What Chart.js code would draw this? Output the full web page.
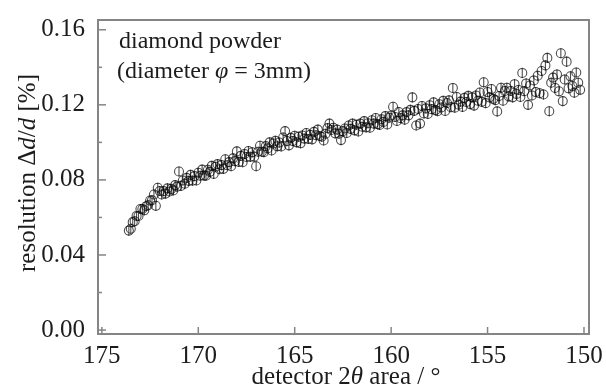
<!DOCTYPE html>
<html><head><meta charset="utf-8">
<script src="https://cdn.jsdelivr.net/npm/chart.js@4/dist/chart.umd.min.js"></script>
<style>html,body{margin:0;padding:0;background:#fff}canvas{display:block}</style>
</head><body>
<canvas id="c" width="606" height="387"></canvas>
<script>
// detector 2θ area (degrees)
const angles = [
173.6,173.5,173.4,173.3,173.2,173.1,173.0,172.9,172.8,172.7,
172.6,172.5,172.4,172.3,172.2,172.1,172.0,171.9,171.8,171.7,
171.6,171.5,171.4,171.3,171.2,171.1,171.0,170.9,170.8,170.7,
170.6,170.5,170.4,170.3,170.2,170.1,170.0,169.9,169.8,169.7,
169.6,169.5,169.4,169.3,169.2,169.1,169.0,168.9,168.8,168.7,
168.6,168.5,168.4,168.3,168.2,168.1,168.0,167.9,167.8,167.7,
167.6,167.5,167.4,167.3,167.2,167.1,167.0,166.9,166.8,166.7,
166.6,166.5,166.4,166.3,166.2,166.1,166.0,165.9,165.8,165.7,
165.6,165.5,165.4,165.3,165.2,165.1,165.0,164.9,164.8,164.7,
164.6,164.5,164.4,164.3,164.2,164.1,164.0,163.9,163.8,163.7,
163.6,163.5,163.4,163.3,163.2,163.1,163.0,162.9,162.8,162.7,
162.6,162.5,162.4,162.3,162.2,162.1,162.0,161.9,161.8,161.7,
161.6,161.5,161.4,161.3,161.2,161.1,161.0,160.9,160.8,160.7,
160.6,160.5,160.4,160.3,160.2,160.1,160.0,159.9,159.8,159.7,
159.6,159.5,159.4,159.3,159.2,159.1,159.0,158.9,158.8,158.7,
158.6,158.5,158.4,158.3,158.2,158.1,158.0,157.9,157.8,157.7,
157.6,157.5,157.4,157.3,157.2,157.1,157.0,156.9,156.8,156.7,
156.6,156.5,156.4,156.3,156.2,156.1,156.0,155.9,155.8,155.7,
155.6,155.5,155.4,155.3,155.2,155.1,155.0,154.9,154.8,154.7,
154.6,154.5,154.4,154.3,154.2,154.1,154.0,153.9,153.8,153.7,
153.6,153.5,153.4,153.3,153.2,153.1,153.0,152.9,152.8,152.7,
152.6,152.5,152.4,152.3,152.2,152.1,152.0,151.9,151.8,151.7,
151.6,151.5,151.4,151.3,151.2,151.1,151.0,150.9,150.8,150.7,
150.6,150.5,150.4,150.3,150.2
];
// resolution Δd/d (%)
const resolution = [
0.0530,0.0540,0.0575,0.0580,0.0608,0.0608,0.0645,0.0645,0.0638,0.0660,
0.0665,0.0690,0.0692,0.0722,0.0662,0.0758,0.0741,0.0722,0.0740,0.0727,
0.0755,0.0738,0.0752,0.0744,0.0772,0.0764,0.0845,0.0768,0.0797,0.0780,
0.0811,0.0795,0.0827,0.0796,0.0820,0.0797,0.0838,0.0822,0.0855,0.0823,
0.0822,0.0854,0.0843,0.0875,0.0832,0.0870,0.0884,0.0857,0.0879,0.0859,
0.0910,0.0878,0.0895,0.0873,0.0915,0.0900,0.0952,0.0896,0.0928,0.0894,
0.0938,0.0922,0.0954,0.0923,0.0947,0.0924,0.0873,0.0950,0.0982,0.0950,
0.0948,0.0980,0.0968,0.1000,0.0957,0.0994,0.1008,0.0979,0.0999,0.0978,
0.1026,0.1060,0.1007,0.0984,0.1024,0.1007,0.1035,0.1000,0.1030,0.0995,
0.1037,0.1020,0.1050,0.1018,0.1040,0.1016,0.1056,0.1038,0.1068,0.1034,
0.1030,0.1010,0.1046,0.1076,0.1100,0.1066,0.1078,0.1048,0.1068,0.1046,
0.1012,0.1060,0.1074,0.1050,0.1090,0.1072,0.1100,0.1064,0.1094,0.1058,
0.1100,0.1083,0.1113,0.1080,0.1102,0.1078,0.1118,0.1100,0.1130,0.1097,
0.1093,0.1123,0.1109,0.1140,0.1095,0.1131,0.1143,0.1190,0.1135,0.1114,
0.1162,0.1129,0.1144,0.1121,0.1161,0.1144,0.1173,0.1240,0.1168,0.1090,
0.1178,0.1100,0.1194,0.1154,0.1181,0.1151,0.1198,0.1177,0.1213,0.1172,
0.1166,0.1203,0.1186,0.1221,0.1167,0.1210,0.1224,0.1187,0.1290,0.1185,
0.1242,0.1201,0.1217,0.1189,0.1237,0.1215,0.1248,0.1204,0.1240,0.1196,
0.1250,0.1222,0.1266,0.1216,0.1320,0.1209,0.1268,0.1240,0.1284,0.1232,
0.1225,0.1165,0.1247,0.1291,0.1222,0.1274,0.1291,0.1245,0.1274,0.1240,
0.1310,0.1258,0.1279,0.1242,0.1370,0.1273,0.1314,0.1200,0.1303,0.1250,
0.1330,0.1268,0.1355,0.1262,0.1380,0.1255,0.1410,0.1450,0.1166,0.1318,
0.1345,0.1290,0.1362,0.1272,0.1475,0.1220,0.1335,0.1430,0.1288,0.1352,
0.1300,0.1265,0.1372,0.1318,0.1280
];
const errorHalf = 0.0027;
const xTicks = [175,170,165,160,155,150];
const yMajorTicks = [0.00,0.04,0.08,0.12,0.16];
const yMinorTicks = [0.02,0.06,0.10,0.14];
const xTitle = [['detector ',false],['2',false],['θ',true],[' area / °',false]];
const yTitle = [['resolution Δ',false],['d',true],['/',false],['d',true],[' [%]',false]];
const note1 = [['diamond powder',false]];
const note2 = [['(diameter ',false],['φ',true],[' = 3mm)',false]];

const FONT = 'Liberation Serif';
const TXT = '#1c1c1c';
const AXC = '#858585';
const MARK = 'rgba(10,10,10,0.72)';

function drawSegs(ctx, segs, size, x, y, align){
  let total = 0;
  const w = segs.map(([t,it])=>{ctx.font=(it?'italic ':'')+size+'px "'+FONT+'"'; const m=ctx.measureText(t).width; total+=m; return m;});
  let cx = align==='center' ? x - total/2 : x;
  segs.forEach(([t,it],i)=>{ctx.font=(it?'italic ':'')+size+'px "'+FONT+'"'; ctx.fillText(t,cx,y); cx+=w[i];});
}

const decor = {
  id:'decor',
  afterDatasetsDraw(chart){
    const ctx = chart.ctx, ys = chart.scales.y;
    const meta = chart.getDatasetMeta(0);
    ctx.save();
    ctx.strokeStyle = MARK;
    ctx.lineWidth = 1.1;
    meta.data.forEach((pt,i)=>{
      const v = resolution[i];
      const y1 = ys.getPixelForValue(v+errorHalf), y2 = ys.getPixelForValue(v-errorHalf);
      ctx.beginPath(); ctx.moveTo(pt.x,y1); ctx.lineTo(pt.x,y2); ctx.stroke();
    });
    ctx.restore();
  },
  afterDraw(chart){
    const ctx = chart.ctx, a = chart.chartArea, xs = chart.scales.x, ys = chart.scales.y;
    ctx.save();
    ctx.strokeStyle = AXC; ctx.lineWidth = 2;
    ctx.strokeRect(a.left, a.top, a.right-a.left, a.bottom-a.top);
    ctx.lineWidth = 1.5;
    xTicks.forEach(v=>{const px=xs.getPixelForValue(v); ctx.beginPath(); ctx.moveTo(px,a.bottom); ctx.lineTo(px,a.bottom-7); ctx.stroke();});
    yMajorTicks.forEach(v=>{const py=ys.getPixelForValue(v); ctx.beginPath(); ctx.moveTo(a.left,py); ctx.lineTo(a.left+8,py); ctx.stroke();});
    yMinorTicks.forEach(v=>{const py=ys.getPixelForValue(v); ctx.beginPath(); ctx.moveTo(a.left,py); ctx.lineTo(a.left+4,py); ctx.stroke();});
    ctx.fillStyle = TXT; ctx.textBaseline = 'alphabetic'; ctx.textAlign = 'left';
    drawSegs(ctx, note1, 24, 119, 48, 'left');
    drawSegs(ctx, note2, 24, 117, 78, 'left');
    drawSegs(ctx, xTitle, 25, 346, 384, 'center');
    ctx.translate(35, 173); ctx.rotate(-Math.PI/2);
    drawSegs(ctx, yTitle, 25, 0, 0, 'center');
    ctx.restore();
  }
};

new Chart(document.getElementById('c').getContext('2d'), {
  type:'scatter',
  data:{datasets:[{
    data: angles.map((a,i)=>({x:a,y:resolution[i]})),
    pointStyle:'circle', pointRadius:4.5, pointBorderWidth:1.1,
    pointBorderColor:MARK, pointBackgroundColor:'rgba(0,0,0,0)', showLine:false
  }]},
  options:{
    responsive:false, animation:false, devicePixelRatio:1,
    layout:{padding:{left:0,right:17,top:14,bottom:0}},
    plugins:{legend:{display:false},tooltip:{enabled:false}},
    scales:{
      x:{type:'linear', reverse:true, min:149.74, max:175.2,
        afterBuildTicks:s=>{s.ticks = xTicks.map(v=>({value:v}));},
        afterFit:s=>{s.height = 53;},
        grid:{display:false}, border:{display:false},
        ticks:{font:{family:FONT,size:25}, color:TXT, padding:-1, maxRotation:0, autoSkip:false, callback:v=>String(v)}
      },
      y:{type:'linear', min:-0.0021, max:0.1652,
        afterBuildTicks:s=>{s.ticks = yMajorTicks.concat(yMinorTicks).map(v=>({value:v}));},
        afterFit:s=>{s.width = 98;},
        grid:{display:false}, border:{display:false},
        ticks:{font:{family:FONT,size:25}, color:TXT, padding:5, autoSkip:false,
          callback:v=> yMajorTicks.includes(v) ? v.toFixed(2) : ''}
      }
    }
  },
  plugins:[decor]
});
</script>
</body></html>
